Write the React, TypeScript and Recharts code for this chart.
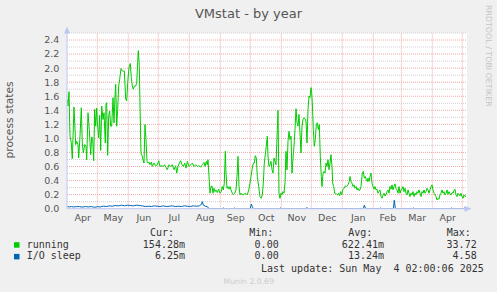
import React from 'react';
import { LineChart, Line, XAxis, YAxis, CartesianGrid, ReferenceLine } from 'recharts';

// ---- data ----
const monthLabels = ['Apr', 'May', 'Jun', 'Jul', 'Aug', 'Sep', 'Oct', 'Nov', 'Dec', 'Jan', 'Feb', 'Mar', 'Apr'];
// day index (0 = 1 Apr 2024) of each month start
const monthStartDays = [0, 30, 61, 91, 122, 153, 183, 214, 244, 275, 306, 334, 365, 395];
const yTickValues = [0, 0.2, 0.4, 0.6, 0.8, 1.0, 1.2, 1.4, 1.6, 1.8, 2.0, 2.2, 2.4];
const yMinorValues = [0.1, 0.3, 0.5, 0.7, 0.9, 1.1, 1.3, 1.5, 1.7, 1.9, 2.1, 2.3, 2.5];

// [day, value]
const running: [number, number][] = [
  [0, 1.556], [0.7, 1.46], [1.7, 1.665], [2.7, 1.031], [4, 0.935], [5, 0.711], [6.7, 1.446], [8.4, 0.911],
  [9.4, 0.959], [10.7, 0.911], [11.4, 0.721], [12.7, 1.031], [14, 1.436], [15, 0.935], [16, 0.792], [17.4, 0.911],
  [18.7, 0.888], [19.4, 0.697], [20.7, 1.365], [22, 1.126], [23.4, 0.768], [24.4, 1.021], [25.4, 0.983], [26.4, 0.682],
  [27.4, 1.413], [28.4, 1.174], [29.4, 1.432], [30, 1.245], [31.4, 1.007], [32.4, 1.327], [33.4, 0.83], [34.4, 1.46],
  [35.7, 1.269], [36.7, 1.365], [38, 0.935], [38.7, 1.484], [39.4, 1.508], [40.4, 0.759], [41.4, 1.317], [42.4, 1.389],
  [43.4, 1.174], [44.4, 1.174], [45.7, 1.58], [46.7, 1.222], [47.7, 1.603], [48.4, 1.77], [49.4, 1.174], [50.4, 1.413],
  [51.4, 1.747], [52.4, 1.842], [53.7, 1.995], [55, 1.961], [56, 1.957], [57, 1.961], [58.4, 1.556], [59.4, 1.532],
  [60.4, 1.794], [61.7, 2.009], [63, 2.066], [64, 1.866], [65, 1.747], [66, 1.699], [67, 1.747], [68.4, 1.747],
  [69.4, 1.785], [70.4, 2.081], [71, 2.248], [72, 2.033], [72.7, 1.46], [73.7, 0.792], [74.7, 0.759], [75.7, 0.697],
  [76.7, 0.649], [77.7, 1.198], [78.7, 0.983], [79.7, 0.673], [80.7, 0.649], [81.7, 0.663], [82.7, 0.625], [84, 0.663],
  [85, 0.601], [86.7, 0.649], [88.4, 0.611], [90, 0.625], [91.4, 0.682], [92.7, 0.601], [94.4, 0.611], [96, 0.601],
  [97.4, 0.625], [98.7, 0.587], [100, 0.554], [101.7, 0.625], [103.4, 0.601], [105, 0.625], [106.7, 0.554], [108.4, 0.611],
  [109.4, 0.506], [110.7, 0.601], [112, 0.649], [113.4, 0.682], [114.7, 0.625], [116, 0.601], [117.4, 0.649], [118.7, 0.577],
  [120, 0.673], [121.7, 0.601], [123.4, 0.625], [125, 0.649], [126.7, 0.601], [128.4, 0.625], [130, 0.601], [131.7, 0.611],
  [133.4, 0.592], [135, 0.625], [136.7, 0.659], [137.7, 0.601], [139, 0.673], [140, 0.625], [140.7, 0.697], [141.7, 0.458],
  [142.7, 0.22], [143.7, 0.315], [144.7, 0.324], [145.7, 0.22], [146.7, 0.291], [147.7, 0.243], [148.7, 0.267], [150, 0.229],
  [151.4, 0.277], [152.7, 0.22], [154, 0.243], [155, 0.315], [156, 0.267], [157, 0.363], [158, 0.816], [158.7, 0.506],
  [159.7, 0.291], [160.7, 0.315], [161.7, 0.277], [162.7, 0.315], [163.7, 0.267], [165, 0.22], [166, 0.196], [167.4, 0.22],
  [168.7, 0.267], [169.7, 0.458], [170.7, 0.744], [171.7, 0.315], [172.7, 0.196], [173.7, 0.22], [175, 0.196], [176.7, 0.205],
  [178.4, 0.22], [180, 0.196], [181.4, 0.267], [182.7, 0.363], [183.7, 0.458], [184.7, 0.554], [186, 0.649], [187, 0.649],
  [188, 0.754], [189, 0.721], [190, 0.458], [191.4, 0.315], [192.7, 0.172], [194, 0.148], [195, 0.196], [196, 0.363],
  [197, 0.649], [198, 0.768], [199, 0.888], [200, 1.031], [200.7, 0.744], [201.7, 0.601], [202.7, 0.625], [203.7, 0.673],
  [204.7, 0.554], [205.7, 0.506], [206.7, 0.721], [207.7, 0.673], [208.7, 0.625], [210, 1.126], [210.7, 1.398], [211.7, 0.22],
  [212.7, 0.148], [213.7, 0.22], [214.7, 0.196], [215.7, 0.243], [216.7, 0.22], [217.7, 0.363], [218.7, 0.816], [219.7, 0.554],
  [220.7, 0.959], [221.7, 1.102], [222.7, 0.983], [223.7, 1.031], [224.7, 0.506], [225.7, 0.721], [226.7, 0.888], [227.7, 1.126],
  [228.7, 1.422], [229.7, 1.222], [230.7, 1.174], [231.7, 1.341], [232.7, 1.078], [233.7, 0.792], [234.7, 1.174], [235.7, 1.269],
  [236.7, 1.293], [237.7, 1.279], [238.7, 1.245], [239.7, 0.935], [240.7, 1.413], [241.7, 1.603], [242.7, 1.58], [243.7, 1.723],
  [244.4, 1.651], [245, 1.508], [246, 1.126], [247, 0.888], [248, 0.983], [249, 1.198], [250, 1.222], [251, 1.126],
  [252, 1.198], [253, 0.744], [254, 0.458], [254.7, 0.315], [255.7, 0.506], [256.7, 0.53], [257.7, 0.506], [258.7, 0.649],
  [259.7, 0.601], [260.7, 0.697], [261.7, 0.554], [262.7, 0.649], [263.7, 0.768], [264.7, 0.601], [265.4, 0.363], [266.4, 0.315],
  [267.4, 0.22], [268.4, 0.22], [269.4, 0.205], [270.4, 0.196], [271.4, 0.22], [272.4, 0.186], [273.4, 0.243], [274.4, 0.196],
  [275.4, 0.267], [276.7, 0.291], [278, 0.324], [279.4, 0.315], [280.7, 0.339], [282, 0.387], [282.7, 0.458], [283.7, 0.387],
  [284.7, 0.363], [285.7, 0.315], [286.7, 0.339], [287.7, 0.291], [288.7, 0.315], [289.7, 0.267], [290.7, 0.291], [291.7, 0.258],
  [292.7, 0.267], [293.7, 0.315], [295, 0.506], [296, 0.53], [297, 0.434], [298, 0.458], [299, 0.41], [300, 0.387],
  [300.7, 0.434], [301.7, 0.387], [302.7, 0.458], [303.7, 0.506], [304.7, 0.363], [305.7, 0.315], [306.7, 0.277], [307.7, 0.315],
  [308.7, 0.267], [309.7, 0.277], [310.7, 0.22], [311.7, 0.243], [312.7, 0.267], [313.7, 0.172], [314.7, 0.148], [315.7, 0.196],
  [316.7, 0.22], [317.7, 0.181], [318.7, 0.196], [319.7, 0.243], [320.7, 0.267], [321.7, 0.22], [322.7, 0.315], [323.7, 0.277],
  [324.7, 0.339], [325.7, 0.267], [326.7, 0.315], [327.7, 0.353], [328.7, 0.291], [329.7, 0.267], [330.7, 0.22], [331.7, 0.315],
  [332.7, 0.22], [333.7, 0.267], [334.7, 0.277], [335.7, 0.315], [336.7, 0.243], [337.7, 0.291], [338.7, 0.22], [339.7, 0.196],
  [340.7, 0.267], [341.7, 0.22], [342.7, 0.172], [343.7, 0.22], [344.7, 0.196], [345.7, 0.243], [346.7, 0.172], [347.7, 0.22],
  [348.7, 0.196], [349.7, 0.243], [350.7, 0.22], [351.7, 0.267], [352.7, 0.22], [353.7, 0.172], [354.7, 0.243], [355.7, 0.22],
  [356.7, 0.267], [357.7, 0.22], [358.7, 0.243], [359.7, 0.291], [360.7, 0.267], [361.7, 0.22], [362.7, 0.267], [363.7, 0.315],
  [364.7, 0.339], [365.7, 0.267], [366.7, 0.22], [367.7, 0.196], [368.7, 0.172], [369.7, 0.124], [370.7, 0.148], [371.7, 0.134],
  [372.7, 0.196], [373.7, 0.22], [374.7, 0.267], [375.7, 0.22], [376.7, 0.243], [377.7, 0.196], [378.7, 0.22], [379.7, 0.267],
  [380.7, 0.205], [381.7, 0.243], [382.7, 0.21], [383.7, 0.196], [384.7, 0.229], [385.7, 0.22], [386.7, 0.258], [387.7, 0.277],
  [388.7, 0.196], [389.7, 0.172], [390.7, 0.22], [391.7, 0.196], [392.7, 0.181], [393.7, 0.22], [394.7, 0.172], [395.7, 0.148],
  [396.7, 0.196], [397.7, 0.172], [398.7, 0.181],
];

const ioSleep: [number, number][] = [
  [0, 0.03], [2, 0.025], [4, 0.03], [6, 0.025], [9, 0.028], [12, 0.03], [15, 0.022], [18, 0.03], [21, 0.025], [24, 0.03],
  [27, 0.02], [30, 0.028], [33, 0.025], [36, 0.035], [39, 0.03], [42, 0.04], [45, 0.035], [48, 0.045], [51, 0.04], [54, 0.05],
  [57, 0.04], [60, 0.05], [63, 0.045], [66, 0.04], [69, 0.05], [72, 0.045], [75, 0.04], [78, 0.03], [81, 0.035], [84, 0.03],
  [87, 0.04], [90, 0.035], [93, 0.03], [96, 0.04], [99, 0.03], [102, 0.035], [105, 0.04], [108, 0.03], [111, 0.035], [114, 0.03],
  [117, 0.04], [120, 0.035], [123, 0.03], [126, 0.04], [129, 0.035], [132, 0.04], [134, 0.06], [135, 0.1], [136, 0.05], [138, 0.035],
  [140, 0.03], [141, 0.01], [142, 0], [155, 0], [156, 0.01], [157, 0], [166, 0], [167, 0.01], [168, 0], [183, 0],
  [184, 0.065], [185, 0.03], [186, 0], [212, 0], [213, 0.01], [214, 0], [238, 0], [239, 0.01], [240, 0.01], [241, 0],
  [296, 0], [297, 0.05], [298, 0.01], [299, 0], [312, 0], [313, 0.01], [314, 0], [326, 0], [327, 0.12], [328, 0.01],
  [329, 0], [345, 0], [346, 0.01], [347, 0], [383, 0], [384, 0.01], [385, 0], [396, 0], [397, 0.01], [398.7, 0],
];

const seriesNames = ['running', 'I/O sleep'];
const seriesColors = ['#00CC00', '#0066B3'];
const statHeaders = ['Cur:', 'Min:', 'Avg:', 'Max:'];
const curValues = ['154.28m', '6.25m'];
const minValues = ['0.00', '0.00'];
const avgValues = ['622.41m', '13.24m'];
const maxValues = ['33.72', '4.58'];
const lastUpdate = 'Last update: Sun May  4 02:00:06 2025';
const title = 'VMstat - by year';
const yLabel = 'process states';

const runningData = running.map(([d, v]) => ({ day: d, value: v }));
const ioData = ioSleep.map(([d, v]) => ({ day: d, value: v }));
const monthMidDays = monthLabels.map((_, i) => (monthStartDays[i] + monthStartDays[i + 1]) / 2 + 0.5);

const FONT = '"DejaVu Sans", Verdana, sans-serif';
const MONO = '"DejaVu Sans Mono", monospace';
const GRID_MAJOR = '#F2A6A6';
const GRID_MINOR = '#CFCFCF';
const AXIS = '#BCC6F2';

export default function App() {
  const statCols = [curValues, minValues, avgValues, maxValues];
  const colEnds = [185, 278.7, 384, 476.7];
  const headerStarts = [150, 249.3, 348.3, 446.7];
  return (
    <div style={{ position: 'absolute', left: 0, top: 0, width: 497, height: 292, background: '#F0F0F0', overflow: 'hidden' }}>
      <LineChart
        width={497}
        height={292}
        margin={{ top: 33, right: 30, bottom: 63.33, left: 0 }}
        style={{ position: 'absolute', left: 0, top: 0 }}
      >
        <CartesianGrid fill="#FFFFFF" horizontal={false} vertical={false} stroke="none" />
        {yMinorValues.map((v) => (
          <ReferenceLine key={'mn' + v} y={v} stroke={GRID_MINOR} strokeDasharray="1 1" strokeWidth={1} />
        ))}
        {yTickValues.filter((v) => v > 0).map((v) => (
          <ReferenceLine key={'mj' + v} y={v} stroke={GRID_MAJOR} strokeDasharray="1 1" strokeWidth={1} />
        ))}
        {monthStartDays.slice(1).map((d) => (
          <ReferenceLine key={'v' + d} x={d} stroke={GRID_MAJOR} strokeDasharray="1 1" strokeWidth={1} />
        ))}
        <XAxis
          type="number"
          dataKey="day"
          domain={[-0.3, 399.7]}
          allowDataOverflow
          ticks={monthMidDays}
          interval={0}
          tickFormatter={(v: number) => monthLabels[monthMidDays.indexOf(v)] ?? ''}
          tickSize={0}
          tickLine={false}
          tickMargin={5.3}
          height={20}
          axisLine={{ stroke: AXIS, strokeWidth: 1 }}
          tick={{ fill: '#555555', fontSize: 9.5, fontFamily: FONT }}
        />
        <YAxis
          type="number"
          domain={[0, 2.5]}
          allowDataOverflow
          ticks={yTickValues}
          interval={0}
          width={67}
          tickSize={0}
          tickLine={false}
          tickMargin={7.7}
          tickFormatter={(v: number) => v.toFixed(1)}
          axisLine={{ stroke: AXIS, strokeWidth: 1 }}
          tick={{ fill: '#555555', fontSize: 9.5, fontFamily: FONT }}
        />
        <Line
          data={runningData}
          dataKey="value"
          type="linear"
          stroke={seriesColors[0]}
          strokeWidth={1}
          dot={false}
          activeDot={false}
          isAnimationActive={false}
        />
        <Line
          data={ioData}
          dataKey="value"
          type="linear"
          stroke={seriesColors[1]}
          strokeWidth={1}
          dot={false}
          activeDot={false}
          isAnimationActive={false}
        />
      </LineChart>
      <svg width={497} height={292} style={{ position: 'absolute', left: 0, top: 0, pointerEvents: 'none' }}>
        <polygon points="464.5,205.7 471.5,208.7 464.5,211.7" fill={AXIS} />
        <polygon points="64,33.5 67,26.5 70,33.5" fill={AXIS} />
        <text x={248.5} y={18.3} textAnchor="middle" fontSize={13} fontFamily={FONT} fill="#555555">{title}</text>
        <text x={13} y={120} textAnchor="middle" fontSize={10.7} fontFamily={FONT} fill="#555555" transform="rotate(-90 13 120)">{yLabel}</text>
        <text x={485.5} y={5} fontSize={7.9} fontFamily={FONT} fill="#C4C4C4" transform="rotate(90 485.5 5)">RRDTOOL / TOBI OETIKER</text>
        {statHeaders.map((h, i) => (
          <text key={h} x={headerStarts[i]} y={236} fontSize={10} fontFamily={MONO} fill="#333333">{h}</text>
        ))}
        {seriesNames.map((n, r) => (
          <g key={n}>
            <rect x={14} y={242.2 + r * 11.7} width={5.5} height={5.5} fill={seriesColors[r]} />
            <text x={26.7} y={247.7 + r * 11.7} fontSize={10} fontFamily={MONO} fill="#333333" style={{ whiteSpace: 'pre' }}>{n}</text>
            {statCols.map((col, c) => (
              <text key={c} x={colEnds[c]} y={247.7 + r * 11.7} textAnchor="end" fontSize={10} fontFamily={MONO} fill="#333333">{col[r]}</text>
            ))}
          </g>
        ))}
        <text x={261} y={271.6} fontSize={10} fontFamily={MONO} fill="#333333" style={{ whiteSpace: 'pre' }}>{lastUpdate}</text>
        <text x={248.7} y={284} textAnchor="middle" fontSize={7.7} fontFamily={FONT} fill="#CCCCCC">Munin 2.0.69</text>
      </svg>
    </div>
  );
}
